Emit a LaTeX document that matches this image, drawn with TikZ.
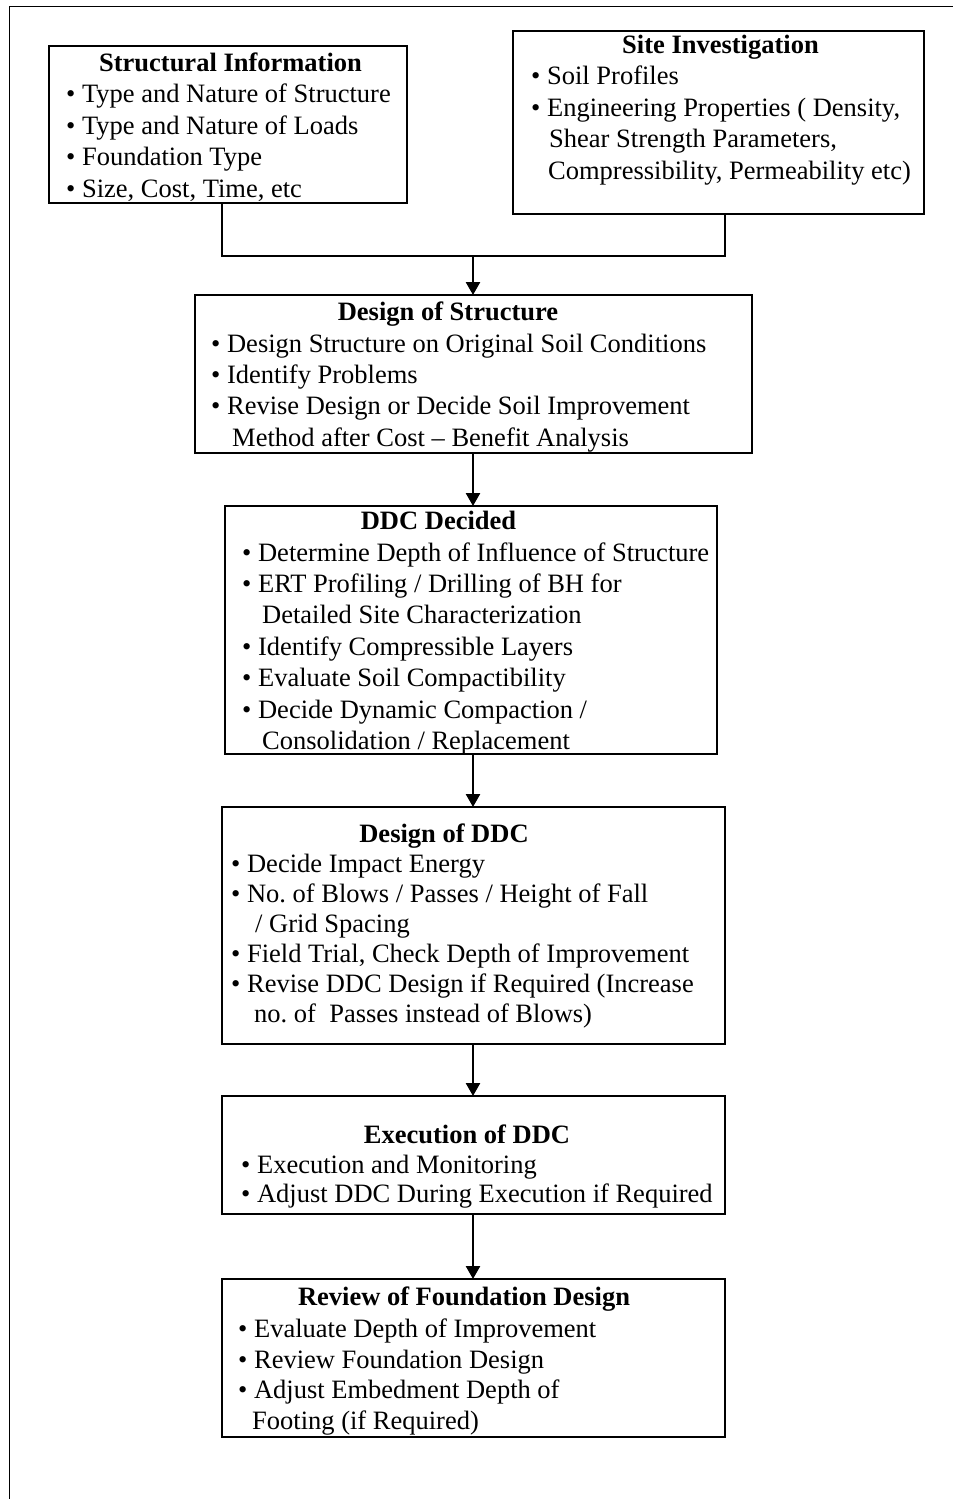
\documentclass[tikz,border=0pt]{standalone}
\usepackage{fontspec}
\setmainfont{Liberation Serif}
\usetikzlibrary{arrows.meta}
\frenchspacing
\tikzset{
  box/.style={draw, line width=1.4pt, inner sep=0pt, outer sep=0pt},
  txt/.style={anchor=base west, inner sep=0pt, font=\fontsize{26.5}{31.5}\selectfont},
  ttl/.style={anchor=base, inner sep=0pt, font=\fontsize{26.5}{31.5}\selectfont\bfseries},
  conn/.style={line width=1.4pt},
  arr/.style={line width=2.6pt, -{Triangle[width=14pt,length=13pt]}},
}
\begin{document}
\begin{tikzpicture}[x=1pt,y=-1pt]
\useasboundingbox (0,0) rectangle (953,1499);
% outer frame (only top and left visible)
\draw[line width=1.3pt] (9.5,1499) -- (9.5,6.7) -- (953,6.7);

% boxes
\node[box, minimum width=358pt, minimum height=157pt] (si)  at (228,124.5) {};
\node[box, minimum width=411pt, minimum height=183pt] (sit) at (718.5,122.5) {};
\node[box, minimum width=557pt, minimum height=158pt] (ds)  at (473.5,374) {};
\node[box, minimum width=492pt, minimum height=248pt] (dd)  at (471,630) {};
\node[box, minimum width=503pt, minimum height=237pt] (dg)  at (473.5,925.5) {};
\node[box, minimum width=503pt, minimum height=118pt] (ex)  at (473.5,1155) {};
\node[box, minimum width=503pt, minimum height=158pt] (rv)  at (473.5,1358) {};

% Structural Information
\node[ttl] (si0) at (230.5,71) {Structural Information};
\node[txt] (si1) at (66,102.5) {• Type and Nature of Structure};
\node[txt] (si2) at (66,134) {• Type and Nature of Loads};
\node[txt] (si3) at (66,165.5) {• Foundation Type};
\node[txt] (si4) at (66,197) {• Size, Cost, Time, etc};

% Site Investigation
\node[ttl] (sit0) at (720.5,53) {Site Investigation};
\node[txt] (sit1) at (531,84.5) {• Soil Profiles};
\node[txt] (sit2) at (531,116) {• Engineering Properties ( Density,};
\node[txt] (sit3) at (549,147.5) {Shear Strength Parameters,};
\node[txt] (sit4) at (548,179) {Compressibility, Permeability etc)};

% Design of Structure
\node[ttl] (ds0) at (448,320) {Design of Structure};
\node[txt] (ds1) at (211,352) {• Design Structure on Original Soil Conditions};
\node[txt] (ds2) at (211,383) {• Identify Problems};
\node[txt] (ds3) at (211,414.5) {• Revise Design or Decide Soil Improvement};
\node[txt] (ds4) at (232,446) {Method after Cost – Benefit Analysis};

% DDC Decided
\node[ttl] (dd0) at (438.5,529) {DDC Decided};
\node[txt] (dd1) at (242,561) {• Determine Depth of Influence of Structure};
\node[txt] (dd2) at (242,592) {• ERT Profiling / Drilling of BH for};
\node[txt] (dd3) at (262,623) {Detailed Site Characterization};
\node[txt] (dd4) at (242,655) {• Identify Compressible Layers};
\node[txt] (dd5) at (242,686) {• Evaluate Soil Compactibility};
\node[txt] (dd6) at (242,718) {• Decide Dynamic Compaction /};
\node[txt] (dd7) at (262,749) {Consolidation / Replacement};

% Design of DDC
\node[ttl] (dg0) at (444,842) {Design of DDC};
\node[txt] (dg1) at (231,872) {• Decide Impact Energy};
\node[txt] (dg2) at (231,902) {• No. of Blows / Passes / Height of Fall};
\node[txt] (dg3) at (255,932) {/ Grid Spacing};
\node[txt] (dg4) at (231,962) {• Field Trial, Check Depth of Improvement};
\node[txt] (dg5) at (231,992) {• Revise DDC Design if Required (Increase};
\node[txt] (dg6) at (254,1022) {no. of~ Passes instead of Blows)};

% Execution of DDC
\node[ttl] (ex0) at (467,1143) {Execution of DDC};
\node[txt] (ex1) at (241,1173) {• Execution and Monitoring};
\node[txt] (ex2) at (241,1202) {• Adjust DDC During Execution if Required};

% Review of Foundation Design
\node[ttl] (rv0) at (464,1305) {Review of Foundation Design};
\node[txt] (rv1) at (238,1337) {• Evaluate Depth of Improvement};
\node[txt] (rv2) at (238,1368) {• Review Foundation Design};
\node[txt] (rv3) at (238,1398) {• Adjust Embedment Depth of};
\node[txt] (rv4) at (252,1429) {Footing (if Required)};

% connectors
\coordinate (jl) at (222,256);
\coordinate (jr) at (725,256);
\coordinate (jm) at (473,256);
\draw[conn] (si.south -| jl) -- (jl) -- (jr) -- (sit.south -| jr);
\draw[arr] (jm) -- (jm |- ds.north);
\draw[arr] (ds.south -| jm) -- (jm |- dd.north);
\draw[arr] (dd.south -| jm) -- (jm |- dg.north);
\draw[arr] (dg.south -| jm) -- (jm |- ex.north);
\draw[arr] (ex.south -| jm) -- (jm |- rv.north);
\end{tikzpicture}
\end{document}
